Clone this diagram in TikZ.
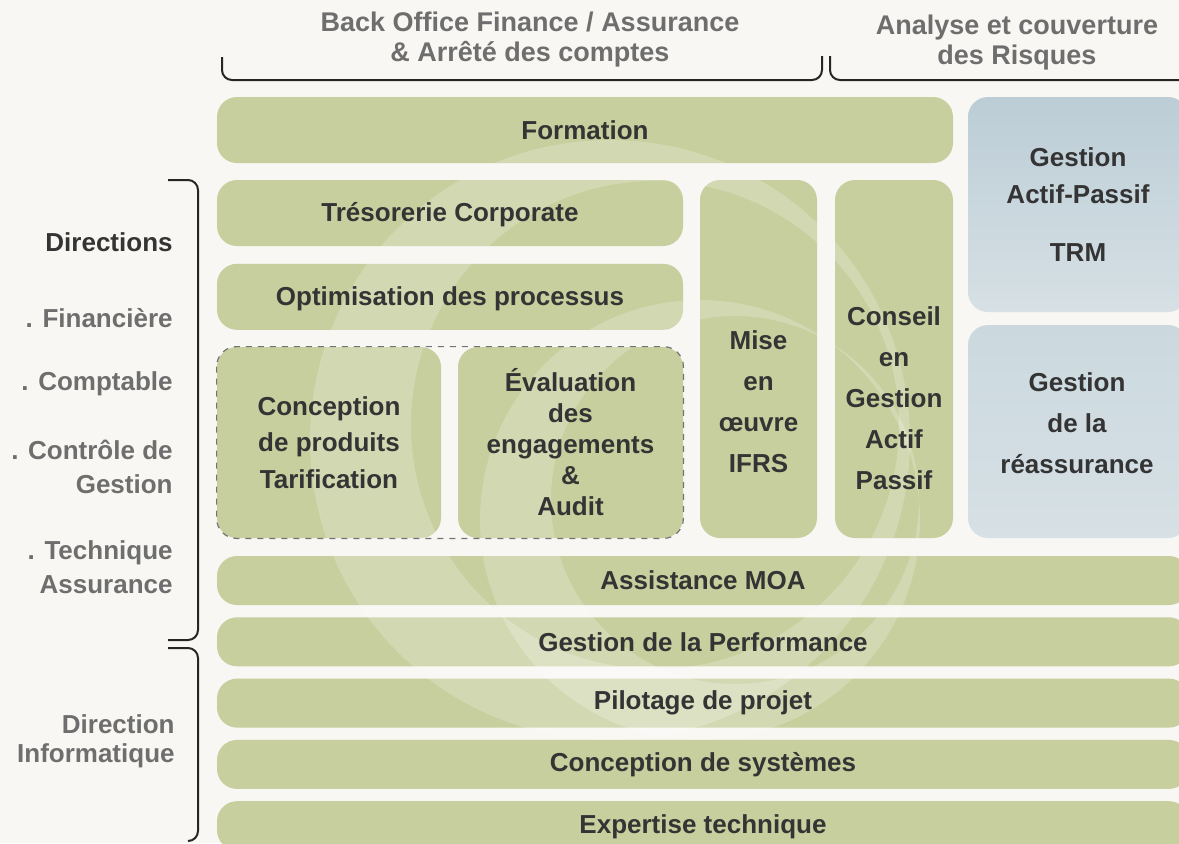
\documentclass[tikz,border=0pt]{standalone}
\usepackage{fontspec}
\setmainfont{Liberation Sans}
\usepackage{tikz}
\usetikzlibrary{positioning}
\definecolor{bg}{RGB}{248,247,243}
\definecolor{grn}{RGB}{198,207,157}
\definecolor{bluA}{RGB}{188,205,214}
\definecolor{bluB}{RGB}{214,224,229}
\definecolor{bluC}{RGB}{203,217,223}
\definecolor{ink}{RGB}{52,52,52}
\definecolor{hdr}{RGB}{110,110,110}

\begin{document}
\begin{tikzpicture}[x=0.5pt, y=-0.5pt,
    txt/.style={align=center, text=ink, font=\bfseries\fontsize{13}{15.5}\selectfont},
    grnbox/.style={txt, fill=grn, rounded corners=10pt, inner sep=0pt},
    blubox/.style={txt, top color=bluA, bottom color=bluB, rounded corners=10pt, inner sep=0pt},
    bar/.style={grnbox, minimum width=486pt, minimum height=24.5pt},
    head/.style={align=center, text=hdr, font=\bfseries\fontsize{13.5}{15}\selectfont},
    side/.style={anchor=east, align=right, inner sep=0pt, text=hdr, font=\bfseries\fontsize{13}{17}\selectfont},
    brace/.style={line width=1pt, draw=black!85, rounded corners=5pt},
    dashframe/.style={draw=black!55, dashed, line width=0.6pt, rounded corners=10pt},
    swirl/.style={fill=white, fill opacity=0.22, even odd rule}]
    \useasboundingbox (0,0) rectangle (1179,843);
    \fill[bg] (0,0) rectangle (1179,843);
    \clip (0,0) rectangle (1179,843);

    \node[head] (bo) at (530,40) {Back Office Finance / Assurance\\\& Arrêté des comptes};
    \node[head] (risk) at (1017,43) {Analyse et couverture\\des Risques};
    \draw[brace] (222,57) |- (822,80) -- (822,56);
    \draw[brace] (830,56) |- (1200,80);

    \node[grnbox, minimum width=368pt, minimum height=33pt] (form) at (585,130) {};
    \node[blubox, minimum width=110pt, minimum height=107.5pt] (alm) at (1078,204.5) {Gestion\\[3pt]Actif-Passif\\[13.5pt]TRM};
    \node[blubox, top color=bluC, minimum width=110pt, minimum height=106.5pt] (reas) at (1078,431.5) {};
    \node[txt, font=\bfseries\fontsize{13}{20.5}\selectfont] (reast) at (1077,423.5) {Gestion\\de la\\réassurance};

    \node[grnbox, minimum width=233pt, minimum height=33pt] (treso) at (450,213) {};
    \node[grnbox, minimum width=233pt, minimum height=33pt, below=8.5pt of treso] (optim) {};
    \node[grnbox, minimum width=112pt, minimum height=95.5pt] (concep) at (329,442.5) {};
    \node[grnbox, minimum width=112.5pt, minimum height=95.5pt] (evalu) at (570.5,442.5) {};
    \node[grnbox, minimum width=58.5pt, minimum height=179pt] (ifrs) at (758.5,359) {};
    \node[grnbox, minimum width=59pt, minimum height=179pt] (cons) at (894,359) {};
    \node[bar] (moa) at (703,580.5) {};
    \node[bar, below=5.75pt of moa] (perf) {};
    \node[bar, below=5.75pt of perf] (pilot) {};
    \node[bar, below=5.75pt of pilot] (syst) {};
    \node[bar, below=5.75pt of syst] (expert) {};

    \begin{scope}
        \clip[rounded corners=10pt] (form.north west) rectangle (form.south east)
            (treso.north west) rectangle (treso.south east)
            (optim.north west) rectangle (optim.south east)
            (concep.north west) rectangle (concep.south east)
            (evalu.north west) rectangle (evalu.south east)
            (ifrs.north west) rectangle (ifrs.south east)
            (cons.north west) rectangle (cons.south east)
            (moa.north west) rectangle (expert.south east);
        \path[swirl] (610,440) circle[radius=150pt] (655,425) circle[radius=122pt];
        \path[swirl] (700,520) circle[radius=110pt] (735,500) circle[radius=92pt];
    \end{scope}

    \node[txt] (formt) at (form) {Formation};
    \node[txt] (tresot) at ([yshift=-1pt]treso.center) {Trésorerie Corporate};
    \node[txt] (optimt) at ([yshift=-1pt]optim.center) {Optimisation des processus};
    \node[txt, font=\bfseries\fontsize{13}{18.3}\selectfont] (concept) at (concep) {Conception\\de produits\\Tarification};
    \node[txt] (evalut) at (evalu) {Évaluation\\des\\engagements\\\&\\Audit};
    \draw[dashframe] (concep.north west) rectangle (evalu.south east);
    \node[txt, font=\bfseries\fontsize{13}{20.5}\selectfont] (ifrst) at (758.5,402) {Mise\\en\\œuvre\\IFRS};
    \node[txt, font=\bfseries\fontsize{13}{20.5}\selectfont] (const) at (894,398) {Conseil\\en\\Gestion\\Actif\\Passif};
    \node[txt] (moat) at (moa) {Assistance MOA};
    \node[txt] (perft) at (perf) {Gestion de la Performance};
    \node[txt] (pilott) at (pilot) {Pilotage de projet};
    \node[txt] (systt) at (syst) {Conception de systèmes};
    \node[txt] (expertt) at ([yshift=-0.5pt]expert.center) {Expertise technique};

    \node[side, text=ink] (dir) at (173,242) {Directions};
    \node[side] (fin) at (173,318) {. Financière};
    \node[side] (compta) at (173,384) {. Comptable};
    \node[side] (ctrl) at (173,467) {. Contrôle de\\Gestion};
    \node[side] (tech) at (173,567) {. Technique\\Assurance};
    \node[side, font=\bfseries\fontsize{13}{14.5}\selectfont] (info) at (175,741.5) {Direction\\Informatique};
    \draw[brace] (168,180) -| (198,640) -- (168,640);
    \draw[brace] (168,648) -| (198,841) -- (188,841);
\end{tikzpicture}
\end{document}
